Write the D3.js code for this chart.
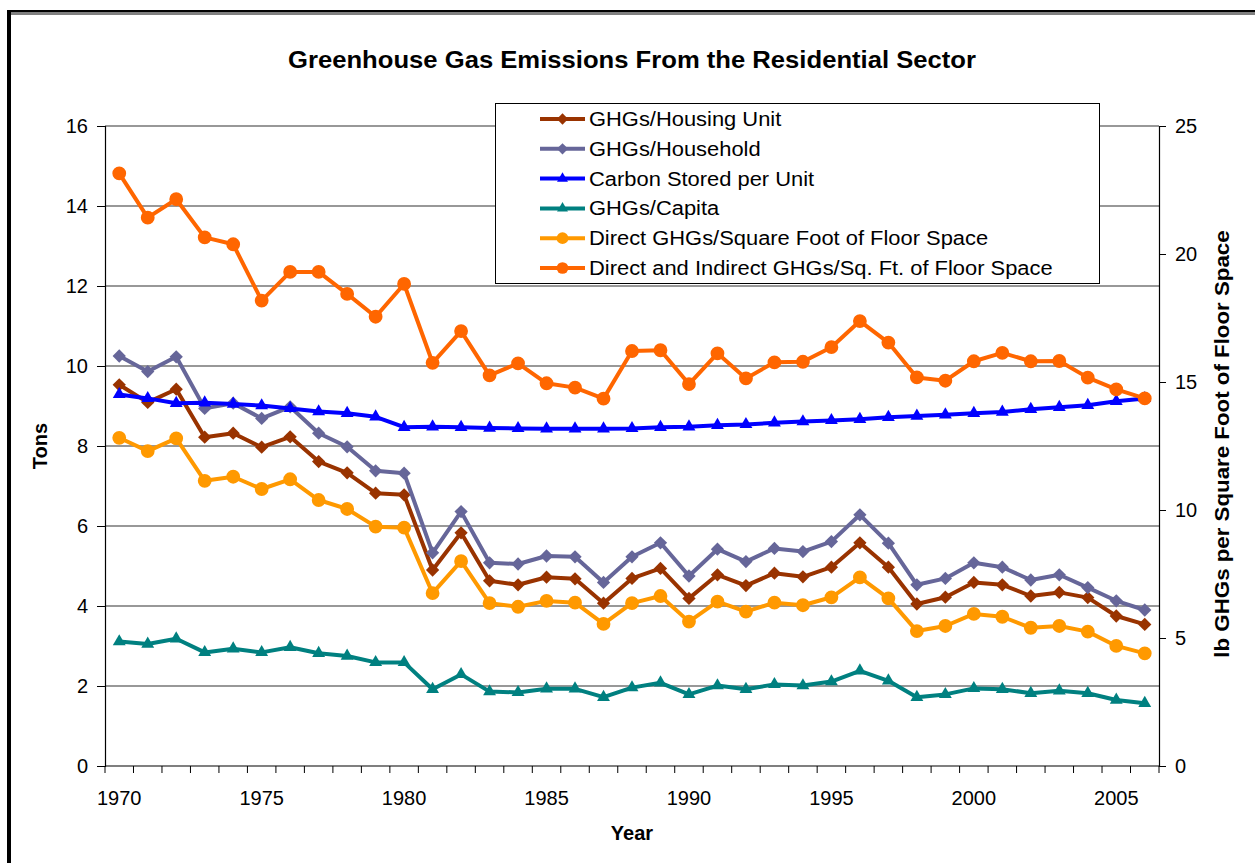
<!DOCTYPE html>
<html>
<head>
<meta charset="utf-8">
<script src="https://cdn.jsdelivr.net/npm/d3@7/dist/d3.min.js"></script>
<style>
  html, body { margin: 0; padding: 0; background: #fff; }
  svg { display: block; font-family: "Liberation Sans", Arial, sans-serif; }
</style>
</head>
<body>
<svg id="chart" width="1255" height="863"></svg>
<script>
// Years on the category axis
const years = d3.range(1970, 2007);

// Left axis (tons)
const ghgPerHousingUnit = [9.53, 9.09, 9.42, 8.22, 8.32, 7.97, 8.23, 7.61, 7.33, 6.82, 6.78, 4.90, 5.83,
  4.63, 4.53, 4.72, 4.68, 4.07, 4.69, 4.94, 4.19, 4.78, 4.51, 4.82, 4.73, 4.97, 5.58, 4.97, 4.05, 4.22,
  4.59, 4.53, 4.25, 4.34, 4.21, 3.75, 3.54];
const ghgPerHousehold = [10.25, 9.86, 10.23, 8.94, 9.07, 8.69, 8.98, 8.32, 7.98, 7.38, 7.32, 5.33, 6.36,
  5.08, 5.05, 5.25, 5.23, 4.59, 5.23, 5.58, 4.75, 5.42, 5.11, 5.44, 5.36, 5.61, 6.28, 5.57, 4.53, 4.69,
  5.08, 4.97, 4.65, 4.78, 4.46, 4.13, 3.90];
const carbonStoredPerUnit = [9.29, 9.19, 9.07, 9.08, 9.05, 9.01, 8.94, 8.86, 8.82, 8.73, 8.47, 8.48, 8.47,
  8.45, 8.44, 8.43, 8.43, 8.43, 8.44, 8.47, 8.48, 8.52, 8.54, 8.58, 8.61, 8.64, 8.67, 8.72, 8.75, 8.78,
  8.82, 8.85, 8.92, 8.97, 9.02, 9.12, 9.19];
const ghgPerCapita = [3.11, 3.05, 3.18, 2.84, 2.93, 2.84, 2.97, 2.82, 2.75, 2.59, 2.59, 1.92, 2.29,
  1.86, 1.84, 1.93, 1.93, 1.72, 1.96, 2.08, 1.79, 2.01, 1.92, 2.04, 2.01, 2.11, 2.38, 2.13, 1.72, 1.79,
  1.94, 1.92, 1.82, 1.88, 1.82, 1.65, 1.57];

// Right axis (lb per square foot)
const directPerSqFt = [12.82, 12.30, 12.80, 11.14, 11.30, 10.82, 11.20, 10.39, 10.04, 9.35, 9.31, 6.75, 8.00,
  6.36, 6.22, 6.45, 6.38, 5.55, 6.36, 6.64, 5.64, 6.42, 6.03, 6.38, 6.28, 6.59, 7.37, 6.55, 5.27, 5.47,
  5.94, 5.83, 5.40, 5.47, 5.25, 4.69, 4.40];
const directIndirectPerSqFt = [23.15, 21.42, 22.14, 20.65, 20.38, 18.18, 19.30, 19.30, 18.44, 17.55, 18.83, 15.75, 16.99,
  15.26, 15.73, 14.95, 14.78, 14.35, 16.21, 16.24, 14.92, 16.12, 15.14, 15.77, 15.79, 16.36, 17.38, 16.54, 15.18, 15.05,
  15.81, 16.14, 15.81, 15.82, 15.17, 14.71, 14.36];

const leftTicks = [0, 2, 4, 6, 8, 10, 12, 14, 16];
const rightTicks = [0, 5, 10, 15, 20, 25];
const yearLabels = [1970, 1975, 1980, 1985, 1990, 1995, 2000, 2005];

const series = [
  { name: "GHGs/Housing Unit", values: ghgPerHousingUnit, axis: "left", color: "#993300", marker: "diamond" },
  { name: "GHGs/Household", values: ghgPerHousehold, axis: "left", color: "#666699", marker: "diamond" },
  { name: "Carbon Stored per Unit", values: carbonStoredPerUnit, axis: "left", color: "#0000FF", marker: "triangle" },
  { name: "GHGs/Capita", values: ghgPerCapita, axis: "left", color: "#008080", marker: "triangle" },
  { name: "Direct GHGs/Square Foot of Floor Space", values: directPerSqFt, axis: "right", color: "#FF9900", marker: "circle" },
  { name: "Direct and Indirect GHGs/Sq. Ft. of Floor Space", values: directIndirectPerSqFt, axis: "right", color: "#FF6600", marker: "circle" }
];

const svg = d3.select("#chart");
const plot = { left: 105, right: 1159, top: 126, bottom: 766 };

const x = d3.scaleBand().domain(years).range([plot.left, plot.right]).padding(0);
const yL = d3.scaleLinear().domain([0, 16]).range([plot.bottom, plot.top]);
const yR = d3.scaleLinear().domain([0, 25]).range([plot.bottom, plot.top]);
const cx = yr => x(yr) + x.bandwidth() / 2;

// Outer frame (double rule on top, heavy rule on the left)
svg.append("rect").attr("x", 7).attr("y", 10).attr("width", 1248).attr("height", 2.5).attr("fill", "#000");
svg.append("rect").attr("x", 7).attr("y", 10).attr("width", 4).attr("height", 853).attr("fill", "#000");
svg.append("line").attr("x1", 11).attr("x2", 1255).attr("y1", 14).attr("y2", 14)
  .attr("stroke", "#000").attr("stroke-width", 1);

// Title (glyphs slightly widened)
svg.append("text").attr("transform", "translate(632,68) scale(1.115,1)").attr("text-anchor", "middle")
  .attr("font-size", 23).attr("font-weight", "bold")
  .text("Greenhouse Gas Emissions From the Residential Sector");

// Gridlines
svg.append("g").selectAll("line").data(leftTicks.filter(d => d > 0)).join("line")
  .attr("x1", plot.left).attr("x2", plot.right)
  .attr("y1", d => yL(d)).attr("y2", d => yL(d))
  .attr("stroke", "#333").attr("stroke-width", 1.2);

// Left axis
const gL = svg.append("g").attr("transform", `translate(${plot.left},0)`)
  .call(d3.axisLeft(yL).tickValues(leftTicks).tickSize(8).tickPadding(9).tickFormat(d3.format("d")));
// Right axis
const gR = svg.append("g").attr("transform", `translate(${plot.right},0)`)
  .call(d3.axisRight(yR).tickValues(rightTicks).tickSize(7).tickPadding(9).tickFormat(d3.format("d")));
// Bottom axis: labels centred on categories
const gB = svg.append("g").attr("transform", `translate(0,${plot.bottom})`)
  .call(d3.axisBottom(x).tickValues(yearLabels).tickSize(0).tickPadding(25));
// Tick marks between categories
gB.append("g").selectAll("line").data(years.map(yr => x(yr)).concat([plot.right])).join("line")
  .attr("x1", d => d).attr("x2", d => d).attr("y1", 0).attr("y2", 7)
  .attr("stroke", "#000").attr("stroke-width", 1);

[gL, gR, gB].forEach(g => {
  g.select(".domain").attr("stroke", "#000").attr("stroke-width", 1.2);
  g.selectAll(".tick line").attr("stroke", "#000");
  g.selectAll("text").attr("font-size", 20).attr("fill", "#000")
    .attr("font-family", "'Liberation Sans', Arial, sans-serif");
});
gB.select(".domain").attr("d", `M${plot.left},0H${plot.right}`);

// Axis titles
svg.append("text").attr("transform", "translate(47,446) rotate(-90)").attr("text-anchor", "middle")
  .attr("font-size", 20).attr("font-weight", "bold").text("Tons");
svg.append("text").attr("transform", "translate(1229,444) rotate(-90) scale(1.115,1)").attr("text-anchor", "middle")
  .attr("font-size", 20).attr("font-weight", "bold")
  .text("lb GHGs per Square Foot of Floor Space");
svg.append("text").attr("x", 632).attr("y", 840).attr("text-anchor", "middle")
  .attr("font-size", 20).attr("font-weight", "bold").text("Year");

// Marker shapes
function markerPath(kind, scale) {
  const s = scale || 1;
  if (kind === "diamond") return d3.symbol().type(d3.symbolSquare).size(88 * s * s)();
  if (kind === "triangle") return d3.symbol().type(d3.symbolTriangle).size(72 * s * s)();
  return d3.symbol().type(d3.symbolCircle).size(150 * s * s)();
}

// Series lines and markers
series.forEach(s => {
  const yScale = s.axis === "left" ? yL : yR;
  const pts = years.map((yr, i) => [cx(yr), yScale(s.values[i])]);
  const g = svg.append("g");
  g.append("path").attr("d", d3.line()(pts)).attr("fill", "none")
    .attr("stroke", s.color).attr("stroke-width", 4).attr("stroke-linejoin", "round");
  g.selectAll("path.m").data(pts).join("path").attr("class", "m")
    .attr("d", markerPath(s.marker))
    .attr("transform", d => `translate(${d[0]},${d[1]})` + (s.marker === "diamond" ? " rotate(45)" : ""))
    .attr("fill", s.color);
});

// Legend
const lg = svg.append("g");
lg.append("rect").attr("x", 495.5).attr("y", 103.5).attr("width", 604).attr("height", 180)
  .attr("fill", "#fff").attr("stroke", "#000").attr("stroke-width", 1);
series.forEach((s, i) => {
  const yy = 119 + i * 29.8;
  lg.append("line").attr("x1", 540).attr("x2", 585).attr("y1", yy).attr("y2", yy)
    .attr("stroke", s.color).attr("stroke-width", 4);
  lg.append("path").attr("d", markerPath(s.marker, 0.85))
    .attr("transform", `translate(562.5,${yy})` + (s.marker === "diamond" ? " rotate(45)" : ""))
    .attr("fill", s.color);
  lg.append("text").attr("transform", `translate(589,${yy + 7}) scale(1.095,1)`)
    .attr("font-size", 20).text(s.name);
});
</script>
</body>
</html>
